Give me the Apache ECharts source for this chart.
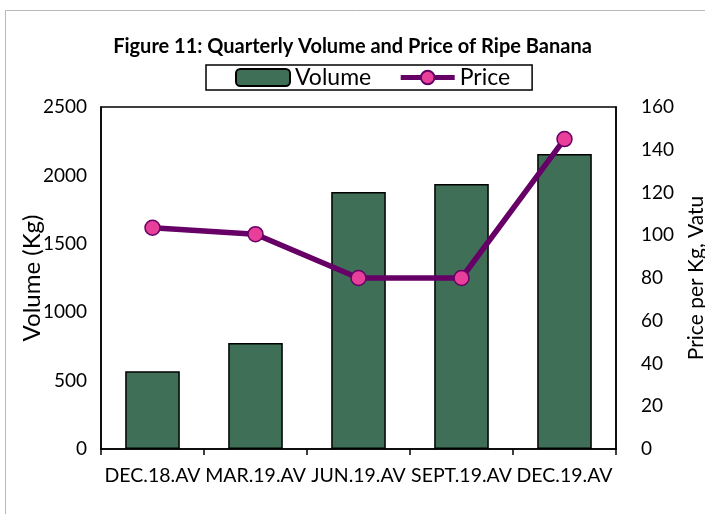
<!DOCTYPE html>
<html>
<head>
<meta charset="utf-8">
<script src="https://cdn.jsdelivr.net/npm/echarts@6/dist/echarts.min.js"></script>
<style>
  html, body { margin: 0; padding: 0; background: #fff; }
  #main { width: 705px; height: 514px; }
</style>
</head>
<body>
<div id="main"></div>
<script>
// data
var quarters = ['DEC.18.AV', 'MAR.19.AV', 'JUN.19.AV', 'SEPT.19.AV', 'DEC.19.AV'];
var volume = [568, 775, 1879, 1937, 2156];
var price = [103.5, 100.5, 80, 80, 145];

var font = 'Lato, "Noto Sans", sans-serif';

var myChart = echarts.init(document.getElementById('main'));
var option = {
    backgroundColor: '#fff',
    animation: false,
    textStyle: { fontFamily: font, color: '#000' },
    title: {
        text: 'Figure 11: Quarterly Volume and Price of Ripe Banana',
        left: 'center',
        top: 32,
        textStyle: { fontFamily: font, fontSize: 20, fontWeight: 'bold', color: '#000' }
    },
    legend: {
        left: 206,
        top: 65,
        borderColor: '#000',
        borderWidth: 1.5,
        padding: [1, 22, 1, 29],
        itemGap: 27,
        itemWidth: 54,
        itemHeight: 17,
        textStyle: { fontFamily: font, fontSize: 23, color: '#000' },
        data: [
            'Volume',
            { name: 'Price', lineStyle: { width: 5 } }
        ]
    },
    graphic: [{
        type: 'rect',
        shape: { x: 5.5, y: 10.5, width: 720, height: 520 },
        style: { fill: 'none', stroke: '#b8b8b8', lineWidth: 1 },
        silent: true
    }],
    grid: {
        left: 101, right: 89, top: 107, bottom: 65,
        show: true, borderColor: '#000', borderWidth: 1.5,
        containLabel: false,
        outerBoundsMode: 'none'
    },
    xAxis: {
        type: 'category',
        data: quarters,
        axisLine: { lineStyle: { color: '#000', width: 1.5 } },
        axisTick: { show: true, length: 6, lineStyle: { color: '#000', width: 1.5 } },
        axisLabel: { interval: 0, fontFamily: font, fontSize: 19.5, color: '#000', margin: 17 }
    },
    yAxis: [{
        type: 'value',
        min: 0, max: 2500, interval: 500,
        name: 'Volume (Kg)',
        nameLocation: 'middle',
        nameGap: 57,
        nameMoveOverlap: false,
        nameTextStyle: { fontFamily: font, fontSize: 24, color: '#000' },
        axisLine: { show: true, lineStyle: { color: '#000', width: 1.5 } },
        axisTick: { show: false },
        splitLine: { show: false },
        axisLabel: { fontFamily: font, fontSize: 19, color: '#000', margin: 14,
            formatter: function (v) { return String(v); } }
    }, {
        type: 'value',
        min: 0, max: 160, interval: 20,
        name: 'Price per Kg, Vatu',
        nameLocation: 'middle',
        nameGap: 70,
        nameRotate: 90,
        nameMoveOverlap: false,
        nameTextStyle: { fontFamily: font, fontSize: 21, color: '#000' },
        axisLine: { show: true, lineStyle: { color: '#000', width: 1.5 } },
        axisTick: { show: false },
        splitLine: { show: false },
        axisLabel: { fontFamily: font, fontSize: 19, color: '#000', margin: 25 }
    }],
    series: [{
        name: 'Volume',
        type: 'bar',
        yAxisIndex: 0,
        data: volume,
        barWidth: '53%',
        itemStyle: { color: '#3f6f57', borderColor: '#000', borderWidth: 1.5 }
    }, {
        name: 'Price',
        type: 'line',
        yAxisIndex: 1,
        data: price,
        symbol: 'circle',
        symbolSize: 15,
        lineStyle: { color: '#660066', width: 5.5 },
        itemStyle: { color: '#e8409a', borderColor: '#660066', borderWidth: 1.5 }
    }]
};
myChart.setOption(option);
</script>
</body>
</html>
